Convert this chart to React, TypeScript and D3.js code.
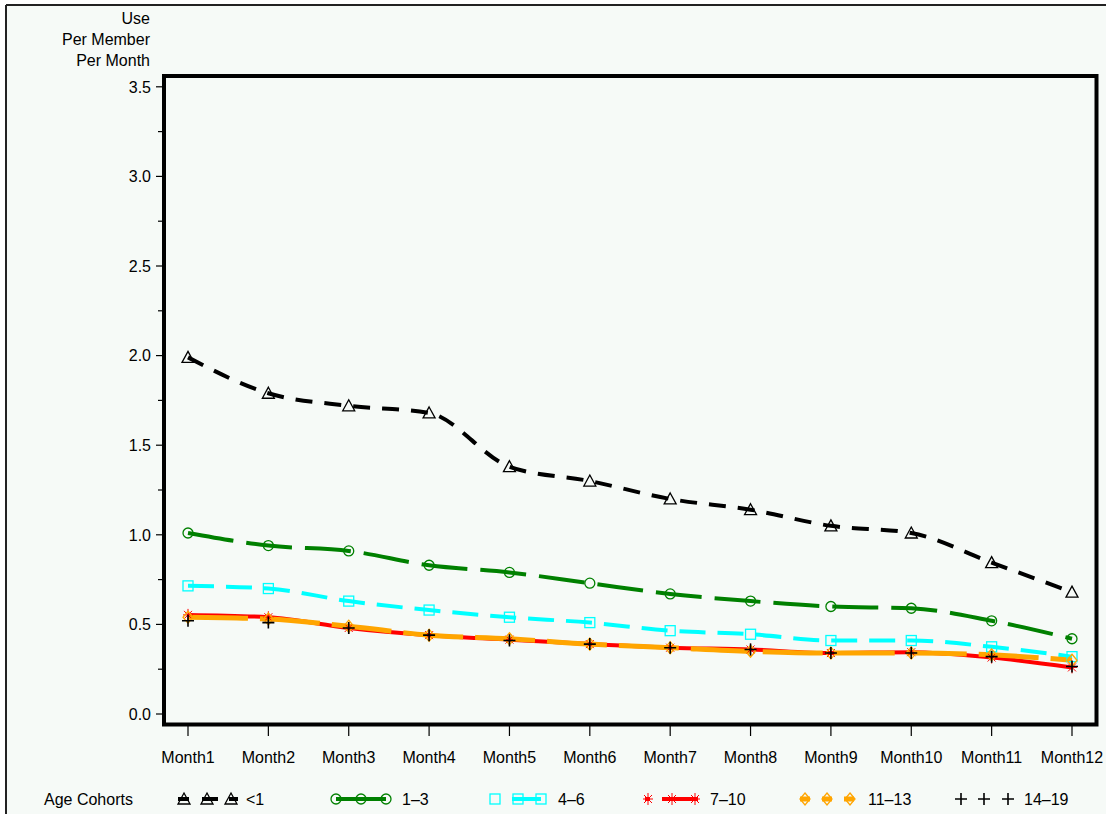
import React from "react";
import * as d3 from "d3";

const months = ["Month1","Month2","Month3","Month4","Month5","Month6","Month7","Month8","Month9","Month10","Month11","Month12"];
const lt1 = [1.99, 1.79, 1.72, 1.68, 1.38, 1.30, 1.20, 1.14, 1.05, 1.01, 0.845, 0.68];
const c1to3 = [1.01, 0.94, 0.91, 0.83, 0.79, 0.73, 0.67, 0.63, 0.60, 0.59, 0.52, 0.42];
const c4to6 = [0.715, 0.70, 0.63, 0.58, 0.54, 0.51, 0.465, 0.445, 0.41, 0.41, 0.375, 0.32];
const c7to10 = [0.553, 0.54, 0.48, 0.44, 0.415, 0.39, 0.37, 0.36, 0.34, 0.345, 0.315, 0.26];
const c11to13 = [0.54, 0.53, 0.49, 0.44, 0.42, 0.39, 0.37, 0.35, 0.34, 0.34, 0.33, 0.30];
const c14to19 = [0.52, 0.51, 0.48, 0.44, 0.41, 0.39, 0.37, 0.36, 0.34, 0.34, 0.32, 0.265];
const yTicks = [0, 0.5, 1.0, 1.5, 2.0, 2.5, 3.0, 3.5];
const yMinorTicks = [0.25, 0.75, 1.25, 1.75, 2.25, 2.75, 3.25];
const yTitle = ["Use", "Per Member", "Per Month"];
const legendTitle = "Age Cohorts";

type Marker = "triangle" | "circle" | "square" | "star" | "diamond" | "plus";
interface Series { name: string; values: number[]; color: string; dash: string | null; width: number; marker: Marker; line: boolean; legendDash: string | null; legendFrom: number; legendTo: number; }

const series: Series[] = [
  { name: "<1", values: lt1, color: "#000000", dash: "17,12", width: 4, marker: "triangle", line: true, legendDash: "11,13,16,11", legendFrom: 178, legendTo: 238 },
  { name: "1\u20133", values: c1to3, color: "#008000", dash: "46,13", width: 4, marker: "circle", line: true, legendDash: null, legendFrom: 336, legendTo: 386 },
  { name: "4\u20136", values: c4to6, color: "#00ffff", dash: "26,12", width: 4, marker: "square", line: true, legendDash: null, legendFrom: 512, legendTo: 541 },
  { name: "7\u201310", values: c7to10, color: "#ff0000", dash: null, width: 4, marker: "star", line: true, legendDash: "5,12,100", legendFrom: 645, legendTo: 698 },
  { name: "11\u201313", values: c11to13, color: "#ffa500", dash: "60,12", width: 5, marker: "diamond", line: true, legendDash: "10,12", legendFrom: 800, legendTo: 856 },
  { name: "14\u201319", values: c14to19, color: "#000000", dash: null, width: 0, marker: "plus", line: false, legendDash: null, legendFrom: 0, legendTo: 0 },
];
const legendMarkerX = [[184, 207, 231], [336, 361, 386], [495, 518, 541], [648, 672, 695], [805, 827, 850], [961, 984, 1008]];
const legendTextX = [246, 402, 558, 710, 868, 1024];

const FONT = "'Liberation Sans', Arial, sans-serif";
const BG = "#f6faf7";

function MarkerShape({ type, x, y, color }: { type: Marker; x: number; y: number; color: string }) {
  switch (type) {
    case "triangle":
      return <path d={`M${x},${y - 6}L${x + 6},${y + 5}L${x - 6},${y + 5}Z`} fill="none" stroke={color} strokeWidth={1.3} />;
    case "circle":
      return <circle cx={x} cy={y} r={5} fill="none" stroke={color} strokeWidth={1.3} />;
    case "square":
      return <rect x={x - 5} y={y - 5} width={10} height={10} fill="none" stroke={color} strokeWidth={1.3} />;
    case "diamond":
      return <path d={`M${x},${y - 6}L${x + 5},${y}L${x},${y + 6}L${x - 5},${y}Z`} fill="none" stroke={color} strokeWidth={1.3} />;
    case "star":
      return <path d={`M${x - 5},${y}H${x + 5}M${x},${y - 6}V${y + 6}M${x - 4},${y - 4}L${x + 4},${y + 4}M${x - 4},${y + 4}L${x + 4},${y - 4}`} stroke={color} strokeWidth={1} fill="none" />;
    case "plus":
    default:
      return <path d={`M${x - 6},${y}H${x + 6}M${x},${y - 6}V${y + 6}`} stroke={color} strokeWidth={1.6} fill="none" />;
  }
}

export default function App() {
  const W = 1106, H = 814;
  const x = d3.scalePoint<string>().domain(months).range([188, 1072]);
  const y = d3.scaleLinear().domain([0, 3.5]).range([714, 86.8]);
  const frame = { left: 164, top: 76, right: 1096.5, bottom: 724.5 };
  const lineGen = d3.line<number>().x((_, i) => x(months[i]) as number).y((v) => y(v)).curve(d3.curveMonotoneX);

  return (
    <div style={{ position: "fixed", left: 0, top: 0, width: W, height: H, background: "#fff" }}>
      <svg width={W} height={H} style={{ display: "block", fontFamily: FONT }}>
        <rect x={0} y={0} width={W} height={H} fill="#ffffff" />
        <rect x={6} y={5} width={W} height={H} fill={BG} />
        <line x1={6} y1={5} x2={W} y2={5} stroke="#222" strokeWidth={2} />
        <line x1={6} y1={5} x2={6} y2={H} stroke="#222" strokeWidth={2} />

        {yTitle.map((t, i) => (
          <text key={t} x={150} y={23.5 + i * 21} textAnchor="end" fontSize={16} fill="#000">{t}</text>
        ))}

        {yTicks.map((t) => (
          <g key={t}>
            <line x1={156} x2={frame.left} y1={y(t)} y2={y(t)} stroke="#000" strokeWidth={1.2} />
            <text x={151} y={y(t) + 5.7} textAnchor="end" fontSize={16} fill="#000">{t.toFixed(1)}</text>
          </g>
        ))}
        {yMinorTicks.map((t) => (
          <line key={t} x1={158} x2={frame.left} y1={y(t)} y2={y(t)} stroke="#000" strokeWidth={1.2} />
        ))}

        {months.map((m) => (
          <g key={m}>
            <line x1={x(m)} x2={x(m)} y1={frame.bottom} y2={736} stroke="#000" strokeWidth={1.2} />
            <text x={x(m)} y={763} textAnchor="middle" fontSize={16} fill="#000">{m}</text>
          </g>
        ))}

        {series.filter((s) => s.line).map((s) => (
          <path key={s.name} d={lineGen(s.values) || ""} fill="none" stroke={s.color} strokeWidth={s.width} strokeDasharray={s.dash || undefined} />
        ))}
        {series.map((s) => (
          <g key={s.name + "m"}>
            {s.values.map((v, i) => (
              <MarkerShape key={i} type={s.marker} x={x(months[i]) as number} y={y(v)} color={s.color} />
            ))}
          </g>
        ))}

        <rect x={frame.left} y={frame.top} width={frame.right - frame.left} height={frame.bottom - frame.top} fill="none" stroke="#000" strokeWidth={4} />

        <text x={44} y={805} fontSize={16} fill="#000">{legendTitle}</text>
        {series.map((s, si) => {
          const ly = 799;
          return (
            <g key={s.name + "leg"}>
              {s.line && (
                <line x1={s.legendFrom} x2={s.legendTo} y1={ly} y2={ly} stroke={s.color} strokeWidth={s.width} strokeDasharray={s.legendDash || undefined} />
              )}
              {legendMarkerX[si].map((mx, k) => (
                <MarkerShape key={k} type={s.marker} x={mx} y={ly} color={s.color} />
              ))}
              <text x={legendTextX[si]} y={805} fontSize={16} fill="#000">{s.name}</text>
            </g>
          );
        })}
      </svg>
    </div>
  );
}
